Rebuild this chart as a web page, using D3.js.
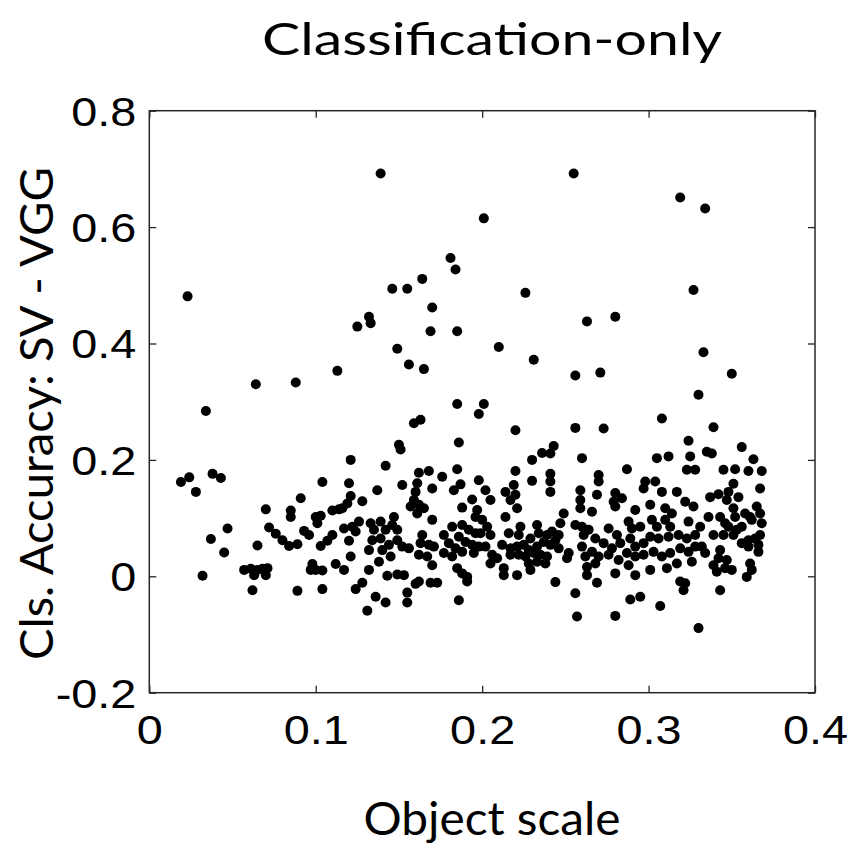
<!DOCTYPE html>
<html>
<head>
<meta charset="utf-8">
<script src="https://cdn.jsdelivr.net/npm/d3@7"></script>
<style>
  body { margin: 0; background: #fff; }
  #chart { width: 852px; height: 844px; }
</style>
</head>
<body>
<div id="chart"></div>
<script>
// object scale (x) and accuracy difference SV - VGG (y)
const objectScale = [
  0.023, 0.034, 0.064, 0.088, 0.113, 0.125, 0.132, 0.133, 0.139, 0.255,
  0.201, 0.181, 0.184, 0.164, 0.146, 0.155, 0.226, 0.170, 0.169, 0.185,
  0.263, 0.149, 0.210, 0.156, 0.165, 0.231, 0.256, 0.271, 0.185, 0.201,
  0.198, 0.159, 0.163, 0.220, 0.256, 0.319, 0.334, 0.327, 0.280, 0.333,
  0.350, 0.330, 0.308, 0.273, 0.339,
  0.019, 0.024, 0.028, 0.038, 0.043, 0.047, 0.037, 0.045, 0.032, 0.057,
  0.061, 0.063, 0.065, 0.062, 0.065,
  0.121, 0.104, 0.120, 0.121, 0.119, 0.116, 0.128, 0.091, 0.070, 0.085,
  0.085, 0.110, 0.114, 0.100, 0.103, 0.101, 0.072, 0.076, 0.080, 0.084,
  0.089, 0.093, 0.096, 0.110, 0.107, 0.103, 0.117, 0.122, 0.126, 0.124,
  0.120, 0.121, 0.098, 0.100, 0.104, 0.097, 0.112, 0.117, 0.068, 0.071,
  0.070, 0.089, 0.104, 0.124, 0.128, 0.131, 0.132, 0.132,
  0.150, 0.151, 0.186, 0.142, 0.162, 0.168, 0.176, 0.185, 0.152, 0.137,
  0.161, 0.160, 0.159, 0.157, 0.162, 0.165, 0.161, 0.170, 0.183, 0.187,
  0.194, 0.188, 0.198, 0.197, 0.147, 0.170, 0.133, 0.139, 0.135, 0.142,
  0.146, 0.149, 0.134, 0.139, 0.144, 0.149, 0.152, 0.156, 0.140, 0.145,
  0.164, 0.163, 0.168, 0.171, 0.162, 0.167, 0.177, 0.180, 0.177, 0.182,
  0.184, 0.182, 0.188, 0.186, 0.190, 0.194, 0.196, 0.192, 0.195, 0.188,
  0.138, 0.170, 0.185, 0.188, 0.191, 0.191, 0.143, 0.149, 0.153, 0.160,
  0.162, 0.169, 0.173, 0.155, 0.155, 0.136, 0.142, 0.186,
  0.243, 0.241, 0.236, 0.230, 0.260, 0.220, 0.230, 0.241, 0.241, 0.241,
  0.202, 0.205, 0.214, 0.219, 0.220, 0.217, 0.221, 0.259, 0.259, 0.259,
  0.196, 0.214, 0.249, 0.247, 0.200, 0.203, 0.205, 0.199, 0.198, 0.202,
  0.206, 0.209, 0.205, 0.223, 0.233, 0.216, 0.222, 0.229, 0.234, 0.239,
  0.242, 0.246, 0.212, 0.217, 0.221, 0.225, 0.228, 0.233, 0.237, 0.241,
  0.246, 0.244, 0.217, 0.222, 0.226, 0.231, 0.235, 0.239, 0.228, 0.233,
  0.238, 0.229, 0.213, 0.213, 0.221, 0.252, 0.251, 0.256, 0.260, 0.261,
  0.260, 0.262, 0.263, 0.263, 0.244, 0.256, 0.257,
  0.324, 0.305, 0.312, 0.325, 0.323, 0.328, 0.287, 0.270, 0.270, 0.298,
  0.304, 0.297, 0.308, 0.317, 0.269, 0.280, 0.284, 0.279, 0.280, 0.266,
  0.292, 0.301, 0.310, 0.314, 0.322, 0.327, 0.324, 0.288, 0.290, 0.295,
  0.302, 0.305, 0.310, 0.313, 0.276, 0.281, 0.264, 0.268, 0.273, 0.278,
  0.283, 0.289, 0.292, 0.297, 0.301, 0.306, 0.312, 0.318, 0.323, 0.328,
  0.266, 0.270, 0.276, 0.282, 0.287, 0.292, 0.297, 0.303, 0.308, 0.313,
  0.319, 0.324, 0.328, 0.268, 0.280, 0.288, 0.292, 0.301, 0.311, 0.317,
  0.326, 0.269, 0.319, 0.322, 0.321, 0.289, 0.295, 0.307, 0.280, 0.330,
  0.335, 0.338, 0.356, 0.363, 0.345, 0.352, 0.360, 0.368, 0.351, 0.367,
  0.337, 0.342, 0.348, 0.347, 0.354, 0.351, 0.352, 0.358, 0.361, 0.365,
  0.367, 0.368, 0.362, 0.356, 0.336, 0.343, 0.346, 0.348, 0.331, 0.332,
  0.334, 0.339, 0.345, 0.351, 0.353, 0.356, 0.360, 0.364, 0.367, 0.366,
  0.366, 0.360, 0.343, 0.342, 0.339, 0.341, 0.346, 0.350, 0.347, 0.361,
  0.362, 0.359, 0.343
];

const accuracyDiff = [
  0.481, 0.284, 0.330, 0.333, 0.353, 0.429, 0.446, 0.435, 0.692, 0.692,
  0.615, 0.547, 0.527, 0.511, 0.494, 0.494, 0.487, 0.462, 0.421, 0.421,
  0.438, 0.391, 0.394, 0.364, 0.356, 0.372, 0.345, 0.350, 0.296, 0.296,
  0.279, 0.263, 0.269, 0.251, 0.255, 0.651, 0.632, 0.492, 0.446, 0.385,
  0.348, 0.312, 0.271, 0.254, 0.256,
  0.162, 0.170, 0.145, 0.176, 0.169, 0.082, 0.064, 0.041, 0.001, 0.011,
  0.013, 0.002, 0.011, -0.024, 0.053,
  0.200, 0.162, 0.160, 0.138, 0.125, 0.117, 0.129, 0.134, 0.115, 0.113,
  0.102, 0.113, 0.115, 0.102, 0.104, 0.091, 0.084, 0.073, 0.062, 0.052,
  0.055, 0.078, 0.071, 0.071, 0.061, 0.052, 0.082, 0.085, 0.094, 0.077,
  0.061, 0.034, 0.021, 0.011, 0.010, 0.011, 0.021, 0.011, 0.013, 0.014,
  0.002, -0.025, -0.022, -0.022, -0.011, -0.059, 0.011, 0.045,
  0.226, 0.218, 0.230, 0.190, 0.178, 0.181, 0.171, 0.184, 0.157, 0.148,
  0.160, 0.145, 0.131, 0.120, 0.123, 0.117, 0.108, 0.151, 0.148, 0.158,
  0.132, 0.118, 0.165, 0.114, 0.102, 0.097, 0.091, 0.094, 0.080, 0.080,
  0.088, 0.080, 0.062, 0.065, 0.054, 0.062, 0.051, 0.048, 0.045, 0.034,
  0.071, 0.057, 0.054, 0.051, 0.037, 0.034, 0.071, 0.057, 0.040, 0.034,
  0.048, 0.085, 0.088, 0.068, 0.059, 0.054, 0.074, 0.080, 0.040, 0.042,
  0.025, 0.019, 0.014, 0.005, -0.009, -0.001, 0.001, 0.003, 0.002, -0.013,
  -0.009, -0.011, -0.011, -0.028, -0.045, -0.035, -0.045, -0.041,
  0.224, 0.211, 0.212, 0.200, 0.203, 0.181, 0.164, 0.176, 0.163, 0.145,
  0.148, 0.131, 0.145, 0.157, 0.140, 0.131, 0.117, 0.148, 0.131, 0.117,
  0.102, 0.102, 0.108, 0.091, 0.097, 0.085, 0.071, 0.074, 0.051, 0.051,
  0.037, 0.031, 0.022, 0.085, 0.088, 0.074, 0.071, 0.065, 0.074, 0.071,
  0.077, 0.071, 0.054, 0.048, 0.051, 0.054, 0.045, 0.051, 0.059, 0.054,
  0.048, 0.062, 0.037, 0.037, 0.034, 0.040, 0.037, 0.034, 0.022, 0.025,
  0.022, 0.011, 0.014, 0.002, 0.002, 0.040, 0.031, 0.088, 0.085, 0.071,
  0.051, 0.034, 0.016, 0.002, -0.010, -0.029, -0.069,
  0.233, 0.203, 0.206, 0.206, 0.183, 0.183, 0.184, 0.174, 0.163, 0.163,
  0.163, 0.151, 0.145, 0.145, 0.140, 0.143, 0.134, 0.128, 0.120, 0.111,
  0.114, 0.123, 0.117, 0.108, 0.128, 0.120, 0.094, 0.094, 0.082, 0.085,
  0.097, 0.085, 0.097, 0.085, 0.082, 0.071, 0.080, 0.065, 0.057, 0.048,
  0.057, 0.065, 0.051, 0.057, 0.068, 0.065, 0.068, 0.071, 0.065, 0.071,
  0.042, 0.034, 0.037, 0.028, 0.040, 0.034, 0.037, 0.042, 0.034, 0.040,
  0.048, 0.042, 0.051, 0.022, 0.005, 0.019, 0.002, 0.011, 0.014, 0.022,
  0.025, -0.011, -0.009, -0.012, -0.024, -0.040, -0.035, -0.051, -0.068, -0.089,
  0.214, 0.211, 0.222, 0.201, 0.183, 0.184, 0.181, 0.181, 0.159, 0.151,
  0.136, 0.141, 0.145, 0.131, 0.136, 0.117, 0.102, 0.108, 0.102, 0.120,
  0.108, 0.091, 0.097, 0.085, 0.102, 0.102, 0.091, 0.085, 0.085, 0.051,
  0.040, 0.071, 0.071, 0.071, 0.080, 0.057, 0.062, 0.065, 0.071, 0.054,
  0.042, 0.051, 0.045, 0.031, 0.019, 0.008, 0.014, 0.011, 0.028, 0.022,
  0.011, -0.001, -0.024
];

const xTicks = [0, 0.1, 0.2, 0.3, 0.4];
const yTicks = [-0.2, 0, 0.2, 0.4, 0.6, 0.8];

const titleText = "Classification-only";
const xLabelText = "Object scale";
const yLabelText = "Cls. Accuracy: SV - VGG";

const points = objectScale.map((x, i) => ({ x: x, y: accuracyDiff[i] }));

const margin = { top: 110.7, right: 37, bottom: 151.3, left: 149.3 };
const totalW = 852, totalH = 844;
const width = totalW - margin.left - margin.right;
const height = totalH - margin.top - margin.bottom;

const svg = d3
  .select("#chart")
  .append("svg")
  .attr("width", totalW)
  .attr("height", totalH);

const g = svg
  .append("g")
  .attr("transform", `translate(${margin.left},${margin.top})`);

const x = d3.scaleLinear().domain([0, 0.4]).range([0, width]);
const y = d3.scaleLinear().domain([-0.2, 0.8]).range([height, 0]);

const axisColor = "#262626";
const tickFont = "'Liberation Sans', Arial, Helvetica, sans-serif";
const labelFont = "Lato, 'Open Sans', sans-serif";

// stretch tick labels a little wider, like the original
function widen(sel, k) {
  sel.each(function () {
    const w = this.getComputedTextLength();
    d3.select(this)
      .attr("textLength", w * k)
      .attr("lengthAdjust", "spacingAndGlyphs");
  });
}

// plain hyphen for negatives, as in the original figure
const fmt = (d) => (d === 0 ? "0" : d.toFixed(1));

// bottom axis with labels
const xAxisG = g
  .append("g")
  .attr("transform", `translate(0,${height})`)
  .call(
    d3.axisBottom(x).tickValues(xTicks).tickSizeInner(-7).tickSizeOuter(0)
      .tickPadding(23).tickFormat(fmt)
  );
xAxisG.select(".domain").remove();
xAxisG.selectAll("line").attr("stroke", axisColor).attr("stroke-width", 1.3);
xAxisG
  .selectAll("text")
  .attr("fill", "#000")
  .style("font-family", tickFont)
  .style("font-size", "40px")
  .call(widen, 1.17);

// left axis with labels
const yAxisG = g
  .append("g")
  .call(
    d3.axisLeft(y).tickValues(yTicks).tickSizeInner(-7).tickSizeOuter(0)
      .tickPadding(13).tickFormat(fmt)
  );
yAxisG.select(".domain").remove();
yAxisG.selectAll("line").attr("stroke", axisColor).attr("stroke-width", 1.3);
yAxisG
  .selectAll("text")
  .attr("fill", "#000")
  .attr("dy", "0.36em")
  .style("font-family", tickFont)
  .style("font-size", "40px")
  .call(widen, 1.17);

// top and right ticks, no labels
const topG = g
  .append("g")
  .call(d3.axisTop(x).tickValues(xTicks).tickSizeInner(-7).tickSizeOuter(0).tickFormat(""));
topG.select(".domain").remove();
topG.selectAll("line").attr("stroke", axisColor).attr("stroke-width", 1.3);

const rightG = g
  .append("g")
  .attr("transform", `translate(${width},0)`)
  .call(d3.axisRight(y).tickValues(yTicks).tickSizeInner(-7).tickSizeOuter(0).tickFormat(""));
rightG.select(".domain").remove();
rightG.selectAll("line").attr("stroke", axisColor).attr("stroke-width", 1.3);

// frame
g.append("rect")
  .attr("width", width)
  .attr("height", height)
  .attr("fill", "none")
  .attr("stroke", axisColor)
  .attr("stroke-width", 1.5);

// points
g.selectAll("circle")
  .data(points)
  .join("circle")
  .attr("cx", (d) => x(d.x))
  .attr("cy", (d) => y(d.y))
  .attr("r", 5)
  .attr("fill", "#000");

// title and axis labels
svg
  .append("text")
  .attr("x", 492)
  .attr("y", 55)
  .attr("text-anchor", "middle")
  .attr("textLength", 460)
  .attr("lengthAdjust", "spacingAndGlyphs")
  .style("font-family", labelFont)
  .style("font-size", "45px")
  .text(titleText);

svg
  .append("text")
  .attr("x", 492)
  .attr("y", 835)
  .attr("text-anchor", "middle")
  .attr("textLength", 257)
  .attr("lengthAdjust", "spacingAndGlyphs")
  .style("font-family", labelFont)
  .style("font-size", "46px")
  .text(xLabelText);

svg
  .append("text")
  .attr("transform", "translate(53,413.5) rotate(-90)")
  .attr("text-anchor", "middle")
  .attr("textLength", 493)
  .attr("lengthAdjust", "spacingAndGlyphs")
  .style("font-family", labelFont)
  .style("font-size", "47px")
  .text(yLabelText);
</script>
</body>
</html>
